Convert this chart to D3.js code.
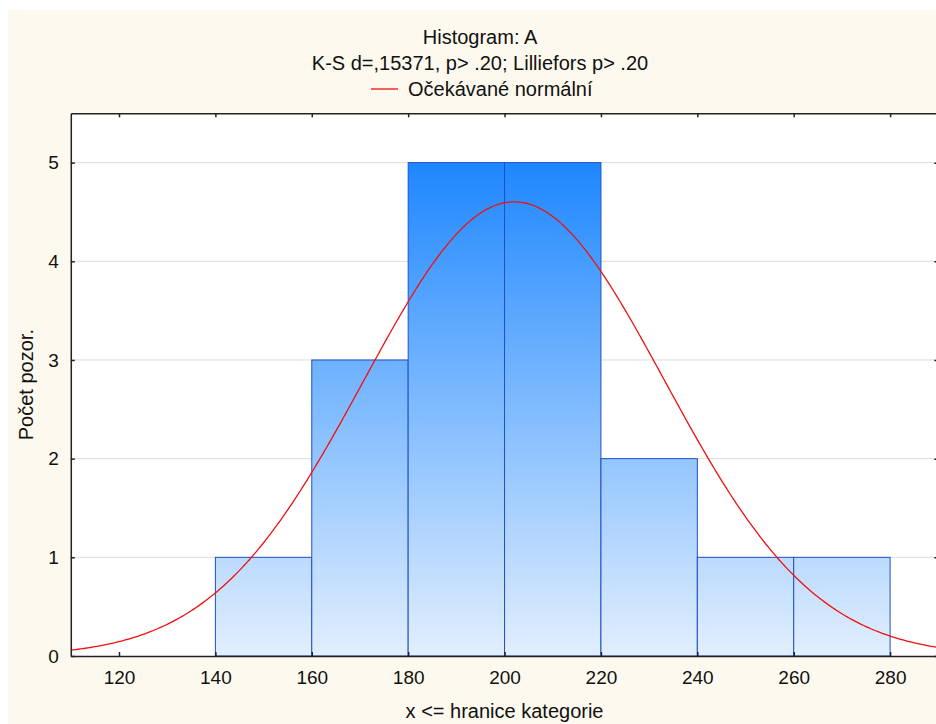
<!DOCTYPE html>
<html>
<head>
<meta charset="utf-8">
<script src="https://cdn.jsdelivr.net/npm/d3@7"></script>
<style>
  body { margin: 0; background: #fff; }
  text { font-family: "Liberation Sans", Arial, sans-serif; fill: #111; }
</style>
</head>
<body>
<svg id="chart" width="936" height="724"></svg>
<script>
// bin upper bounds and counts
const binEdges = [140, 160, 180, 200, 220, 240, 260, 280]
const counts = [1, 3, 5, 5, 2, 1, 1]
const xTicks = [120, 140, 160, 180, 200, 220, 240, 260, 280]
const yTicks = [0, 1, 2, 3, 4, 5]
// fitted normal (expected counts per bin)
const normMean = 202
const normSd = 31.2
const binWidth = 20

const svg = d3.select("#chart")
const m = { left: 70.8, right: 938.3, top: 113.3, bottom: 656 }
const figCenter = 480

svg.append("rect")
  .attr("x", 8).attr("y", 10).attr("width", 940).attr("height", 720)
  .attr("fill", "#fdf9ee")

const x = d3.scaleLinear().domain([110, 290]).range([m.left, m.right])
const y = d3.scaleLinear().domain([0, 5.5]).range([m.bottom, m.top])

// plot area
svg.append("rect")
  .attr("x", m.left).attr("y", m.top)
  .attr("width", m.right - m.left).attr("height", m.bottom - m.top)
  .attr("fill", "#fff")

const defs = svg.append("defs")
const grad = defs.append("linearGradient")
  .attr("id", "barGrad")
  .attr("gradientUnits", "userSpaceOnUse")
  .attr("x1", 0).attr("x2", 0)
  .attr("y1", y(5)).attr("y2", y(0))
grad.append("stop").attr("offset", "0%").attr("stop-color", "#1e87ff")
grad.append("stop").attr("offset", "100%").attr("stop-color", "#e2effd")

// gridlines
svg.append("g")
  .selectAll("line")
  .data(yTicks.filter((d) => d > 0))
  .join("line")
  .attr("x1", m.left).attr("x2", m.right)
  .attr("y1", (d) => y(d)).attr("y2", (d) => y(d))
  .attr("stroke", "#dcdcdc")
  .attr("stroke-width", 1)

// bars
const bins = counts.map((c, i) => ({ x0: binEdges[i], x1: binEdges[i + 1], count: c }))
svg.append("g")
  .selectAll("rect")
  .data(bins)
  .join("rect")
  .attr("x", (d) => x(d.x0))
  .attr("y", (d) => y(d.count))
  .attr("width", (d) => x(d.x1) - x(d.x0))
  .attr("height", (d) => y(0) - y(d.count))
  .attr("fill", "url(#barGrad)")
  .attr("stroke", "#1f50c8")
  .attr("stroke-width", 1)

// expected normal curve
const nObs = d3.sum(counts)
const curvePts = d3.range(110, 290.5, 0.5).map((v) => {
  const z = (v - normMean) / normSd
  return [v, (nObs * binWidth) / (normSd * Math.sqrt(2 * Math.PI)) * Math.exp(-0.5 * z * z)]
})
svg.append("path")
  .datum(curvePts)
  .attr("d", d3.line().x((d) => x(d[0])).y((d) => y(d[1])))
  .attr("fill", "none")
  .attr("stroke", "#f01010")
  .attr("stroke-width", 1.3)

// axes: frame with inward ticks
const axisColor = "#222"
const bottomAxis = svg.append("g")
  .attr("transform", `translate(0,${m.bottom})`)
  .call(d3.axisBottom(x).tickValues(xTicks).tickSizeInner(-4).tickSizeOuter(0).tickPadding(15))
bottomAxis.selectAll("text").attr("font-size", 19).attr("dy", "0.71em")

svg.append("g")
  .attr("transform", `translate(0,${m.top})`)
  .call(d3.axisTop(x).tickValues(xTicks).tickSizeInner(-4).tickSizeOuter(0).tickFormat(""))

const leftAxis = svg.append("g")
  .attr("transform", `translate(${m.left},0)`)
  .call(d3.axisLeft(y).tickValues(yTicks).tickFormat(d3.format("d"))
    .tickSizeInner(-4).tickSizeOuter(0).tickPadding(12))
leftAxis.selectAll("text").attr("font-size", 19)

svg.append("g")
  .attr("transform", `translate(${m.right},0)`)
  .call(d3.axisRight(y).tickValues(yTicks).tickSizeInner(-4).tickSizeOuter(0).tickFormat(""))

svg.selectAll(".domain").attr("stroke", axisColor).attr("stroke-width", 1.5)
svg.selectAll(".tick line").attr("stroke", axisColor).attr("stroke-width", 1.5)

// titles
svg.append("text")
  .attr("x", figCenter).attr("y", 44)
  .attr("text-anchor", "middle").attr("font-size", 20)
  .text("Histogram: A")
svg.append("text")
  .attr("x", figCenter).attr("y", 70)
  .attr("text-anchor", "middle").attr("font-size", 20)
  .text("K-S d=,15371, p> .20; Lilliefors p> .20")

// legend
svg.append("line")
  .attr("x1", 371).attr("x2", 398).attr("y1", 89).attr("y2", 89)
  .attr("stroke", "#f01010").attr("stroke-width", 1.3)
svg.append("text")
  .attr("x", 408).attr("y", 96)
  .attr("font-size", 20)
  .text("Očekávané normální")

// axis titles
svg.append("text")
  .attr("x", (m.left + m.right) / 2).attr("y", 718)
  .attr("text-anchor", "middle").attr("font-size", 20)
  .text("x <= hranice kategorie")
svg.append("text")
  .attr("transform", `translate(33,${(m.top + m.bottom) / 2}) rotate(-90)`)
  .attr("text-anchor", "middle").attr("font-size", 20)
  .text("Počet pozor.")
</script>
</body>
</html>
